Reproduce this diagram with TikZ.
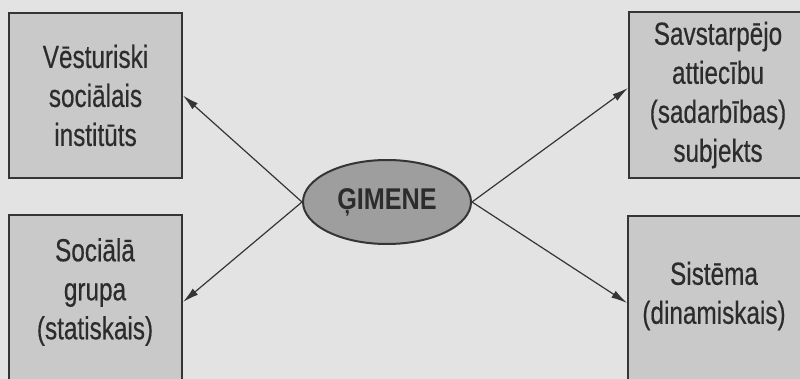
\documentclass[tikz,border=0pt]{standalone}
\usepackage{fontspec}
\setmainfont{Liberation Sans}[FakeStretch=0.76,FakeBold=0.4]
\newfontfamily\gfont{Liberation Sans}[FakeStretch=0.84]
\usetikzlibrary{shapes.geometric,arrows.meta}
\definecolor{bg}{HTML}{E3E3E3}
\definecolor{boxfill}{HTML}{C9C9C9}
\definecolor{ellfill}{HTML}{9E9E9E}
\definecolor{edge}{HTML}{353535}
\definecolor{ink}{HTML}{2C2C2C}
\begin{document}
\begin{tikzpicture}[x=1pt,y=-1pt,
  box/.style={draw=edge, line width=2pt, fill=boxfill, minimum width=173pt,
    inner sep=0pt, align=center, text=ink, font=\fontsize{32}{39}\selectfont},
  boxtext/.style={inner sep=0pt, align=center, text=ink, font=\fontsize{32}{39}\selectfont},
  conn/.style={draw=edge, line width=1.2pt, -{Latex[length=16pt,width=8pt]}}]
\fill[bg] (0,0) rectangle (800,379);
\clip (0,0) rectangle (800,379);
\node[box, minimum height=165pt] (tl) at (95.5,95.5) {Vēsturiski\\sociālais\\institūts};
\node[box, minimum height=166pt, minimum width=178pt] (tr) at (718,95) {Savstarpējo\\attiecību\\(sadarbības)\\subjekts};
\node[box, minimum height=185pt] (bl) at (95.5,307.5) {};
\node[box, minimum height=185pt, minimum width=178pt] (br) at (717,308.5) {};
\node[boxtext] (blt) at (95,292) {Sociālā\\grupa\\(statiskais)};
\node[boxtext] (brt) at (714,296) {Sistēma\\(dinamiskais)};
\node[ellipse, draw=edge, line width=2pt, fill=ellfill, minimum width=168pt,
  minimum height=84pt, inner sep=0pt, text=ink,
  font=\fontsize{30}{32}\gfont\bfseries] (g) at (387,202) {ĢIMENE};
\draw[conn] (g.west) -- (tl.east);
\draw[conn] (g.east) -- ([yshift=7pt]tr.west);
\draw[conn] (g.west) -- ([yshift=5.5pt]bl.east);
\draw[conn] (g.east) -- ([yshift=5.5pt]br.west);
\end{tikzpicture}
\end{document}
